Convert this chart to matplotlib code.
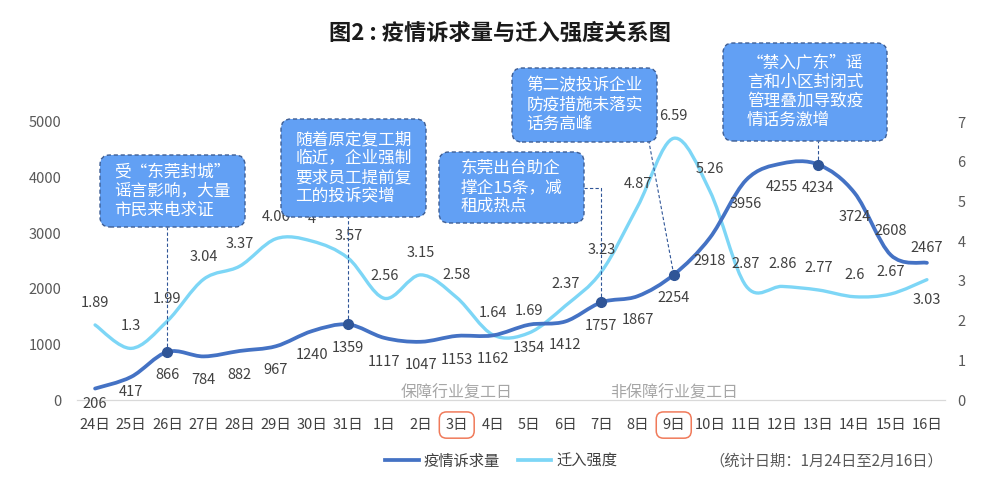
import numpy as np
import matplotlib
matplotlib.use("Agg")
import matplotlib.pyplot as plt
from matplotlib.path import Path
from matplotlib.patches import PathPatch, FancyBboxPatch
from matplotlib.lines import Line2D
from matplotlib.transforms import IdentityTransform

plt.rcParams['font.family'] = ['Noto Sans CJK SC', 'DejaVu Sans']

W, H = 1000, 490

# data
dates = ["24日", "25日", "26日", "27日", "28日", "29日", "30日", "31日",
         "1日", "2日", "3日", "4日", "5日", "6日", "7日", "8日", "9日",
         "10日", "11日", "12日", "13日", "14日", "15日", "16日"]
calls = [206, 417, 866, 784, 882, 967, 1240, 1359, 1117, 1047, 1153, 1162,
         1354, 1412, 1757, 1867, 2254, 2918, 3956, 4255, 4234, 3724, 2608, 2467]
inflow = [1.89, 1.3, 1.99, 3.04, 3.37, 4.06, 4, 3.57, 2.56, 3.15, 2.58, 1.64,
          1.69, 2.37, 3.23, 4.87, 6.59, 5.26, 2.87, 2.86, 2.77, 2.6, 2.67, 3.03]
calls_above = ["15日", "16日"]       # value labels placed above the line
calls_close = ["24日", "25日", "16日"]  # labels sitting closer to the line
inflow_below = ["16日"]              # value labels placed below the line
boxed_days = ["3日", "9日"]
day_notes = [("3日", "保障行业复工日"), ("9日", "非保障行业复工日")]
callout_days = ["26日", "31日", "7日", "9日", "13日"]
callout_texts = [
    "受“东莞封城”\n谣言影响，大量\n市民来电求证",
    "随着原定复工期\n临近，企业强制\n要求员工提前复\n工的投诉突增",
    "东莞出台助企\n撑企15条，减\n租成热点",
    "第二波投诉企业\n防疫措施未落实\n话务高峰",
    "“禁入广东”谣\n言和小区封闭式\n管理叠加导致疫\n情话务激增",
]

BLUE = "#4472C4"
DARK = "#2F5597"
CYAN = "#7DD6F6"
BOXC = "#62A0F4"
TXT = "#404040"

# callout box layout in pixels: left, top, right, bottom
box_px = [(100, 155, 245, 227), (281, 119, 426, 217), (439, 152, 584, 223),
          (512, 68, 657, 142), (723, 43, 887, 141)]


def smooth_path(xs, ys):
    pts = np.column_stack([xs, ys]).astype(float)
    n = len(pts)
    verts = [pts[0]]
    codes = [Path.MOVETO]
    for i in range(n - 1):
        p0 = pts[max(i - 1, 0)]
        p1 = pts[i]
        p2 = pts[i + 1]
        p3 = pts[min(i + 2, n - 1)]
        verts += [p1 + (p2 - p0) / 6, p2 - (p3 - p1) / 6, p2]
        codes += [Path.CURVE4] * 3
    return Path(verts, codes)


fig = plt.figure(figsize=(W / 100, H / 100), dpi=100)
ax = fig.add_axes([77 / W, 90 / H, 868 / W, 278 / H])
ax2 = ax.twinx()
ax.set_zorder(ax2.get_zorder() + 1)
ax.patch.set_visible(False)

x = np.arange(len(dates))
ax.set_xlim(-0.5, len(dates) - 0.5)
ax.set_ylim(0, 5000)
ax2.set_ylim(0, 7)

ax2.add_patch(PathPatch(smooth_path(x, inflow), fc="none", ec=CYAN, lw=2.4,
                        capstyle="round", zorder=2))
ax.add_patch(PathPatch(smooth_path(x, calls), fc="none", ec=BLUE, lw=2.7,
                       capstyle="round", zorder=3))

for a in (ax, ax2):
    for s in ("top", "right", "left"):
        a.spines[s].set_visible(False)
    a.spines["bottom"].set_color("#D9D9D9")
    a.tick_params(length=0, labelsize=10.5, labelcolor="#595959")

ax.set_yticks(range(0, 5001, 1000))
ax2.set_yticks(range(0, 8))
ax.tick_params(axis="y", pad=11)
ax2.tick_params(axis="y", pad=9)
ax.set_xticks(x)
ax.set_xticklabels(dates, fontsize=10.5, color=TXT)
ax.tick_params(axis="x", pad=13)

for lbl in ax.get_xticklabels():
    if lbl.get_text() in boxed_days:
        lbl.set_bbox(dict(boxstyle="round,pad=0.42,rounding_size=0.5",
                          fc="none", ec="#F07A5A", lw=1.1))

# value labels
for i, v in enumerate(calls):
    d = dates[i]
    dy = 11 if d in calls_close else 17
    if d not in calls_above:
        dy = -dy
    ax.annotate(f"{v}", (i, v), xytext=(0, dy), textcoords="offset points",
                ha="center", va="center", fontsize=10.5, color=TXT, zorder=5)
for i, v in enumerate(inflow):
    dy = -15 if dates[i] in inflow_below else 16
    ax2.annotate(f"{v:g}", (i, v), xytext=(0, dy), textcoords="offset points",
                 ha="center", va="center", fontsize=10.5, color=TXT, zorder=5)

# restart-day notes just above the axis
for day, note in day_notes:
    ax.text(dates.index(day), 115, note, ha="center", va="center",
            fontsize=11.5, color="#A6A6A6")

# markers and callouts
inv = ax.transData.inverted()


def px_to_data(xp, yp):
    return inv.transform((xp, H - yp))


for day, text, (l, t, r, b) in zip(callout_days, callout_texts, box_px):
    i = dates.index(day)
    v = calls[i]
    ax.plot(i, v, "o", color=DARK, ms=7, zorder=6, clip_on=False)
    if day == "7日":
        _, ye = px_to_data(0, 188)
        xe, _ = px_to_data(r, 0)
        ax.plot([i, i, xe], [v, ye, ye], color=DARK, lw=0.8, ls=(0, (3, 2)),
                zorder=4, clip_on=False)
    else:
        xb, yb = px_to_data(min(max(ax.transData.transform((i, 0))[0], l + 12), r - 8), b)
        ax.plot([i, xb], [v, yb], color=DARK, lw=0.8, ls=(0, (3, 2)),
                zorder=4, clip_on=False)
    box = FancyBboxPatch((l, H - b), r - l, b - t,
                         boxstyle="round,pad=0,rounding_size=10",
                         transform=IdentityTransform(), fc=BOXC, ec="#3E5E94",
                         lw=1.0, ls=(0, (3, 2)), zorder=7)
    fig.patches.append(box)
    fig.text((l + r) / 2 / W, 1 - (t + b) / 2 / H, text, ha="center",
             va="center", multialignment="left", fontsize=12, color="white",
             linespacing=1.15, zorder=8)

fig.text(0.5, 1 - 33 / H, "图2 : 疫情诉求量与迁入强度关系图", ha="center",
         va="center", fontsize=16, fontweight="bold", color="#1A1A1A")

handles = [Line2D([], [], color=BLUE, lw=2.7), Line2D([], [], color=CYAN, lw=2.7)]
fig.legend(handles, ["疫情诉求量", "迁入强度"], loc="center",
           bbox_to_anchor=(0.501, 1 - 461 / H), ncol=2, frameon=False,
           fontsize=11, handlelength=2.2, handletextpad=0.3, columnspacing=1.2,
           labelcolor=TXT)
fig.text(943 / W, 1 - 461 / H, "（统计日期：1月24日至2月16日）", ha="right",
         va="center", fontsize=11, color="#595959")

fig.savefig("out.png", dpi=100)
